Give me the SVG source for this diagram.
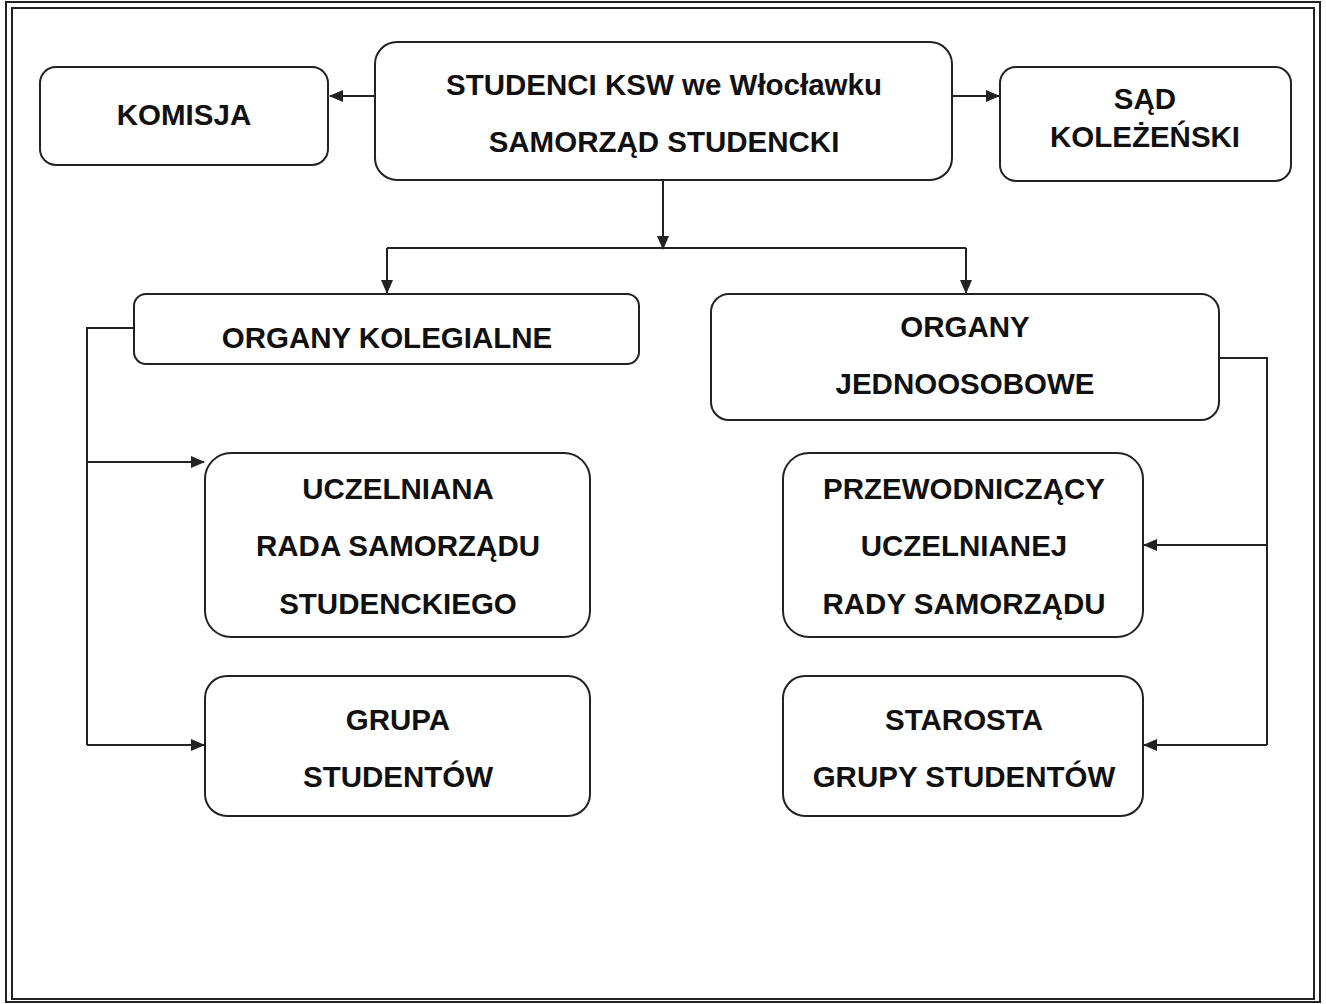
<svg xmlns="http://www.w3.org/2000/svg" width="1326" height="1004" viewBox="0 0 1326 1004">
<defs>
<marker id="arr" markerWidth="14" markerHeight="12" refX="13" refY="6" orient="auto" markerUnits="userSpaceOnUse">
<path d="M0,0 L14,6 L0,12 Z" fill="#222"/>
</marker>
<style>
.box{fill:#fff;stroke:#222;stroke-width:2}
.t{font-family:"Liberation Sans",Arial,sans-serif;font-weight:bold;font-size:29.5px;fill:#111;text-anchor:middle}
.c{fill:none;stroke:#222;stroke-width:2}
</style>
</defs>
<rect width="1326" height="1004" fill="#fff"/>
<g id="frame">
<rect x="6" y="2" width="1314" height="1000" fill="none" stroke="#222" stroke-width="2"/>
<rect x="12" y="8" width="1302" height="991" fill="none" stroke="#222" stroke-width="2"/>
</g>
<g id="connectors">
<path class="c" d="M375,96 H330" marker-end="url(#arr)"/>
<path class="c" d="M952,96 H999" marker-end="url(#arr)"/>
<path class="c" d="M663,180 V249" marker-end="url(#arr)"/>
<path class="c" d="M387,248 H966"/>
<path class="c" d="M387,248 V293" marker-end="url(#arr)"/>
<path class="c" d="M966,248 V293" marker-end="url(#arr)"/>
<path class="c" d="M134,328 H87 V745"/>
<path class="c" d="M87,462 H204" marker-end="url(#arr)"/>
<path class="c" d="M87,745 H204" marker-end="url(#arr)"/>
<path class="c" d="M1219,358 H1267 V745"/>
<path class="c" d="M1267,545 H1144" marker-end="url(#arr)"/>
<path class="c" d="M1267,745 H1144" marker-end="url(#arr)"/>
</g>
<g id="komisja">
<rect class="box" x="40" y="67" width="288" height="98" rx="16"/>
<text class="t" x="184" y="125">KOMISJA</text>
</g>
<g id="studenci">
<rect class="box" x="375" y="42" width="577" height="138" rx="22"/>
<text class="t" x="664" y="95">STUDENCI KSW we Włocławku</text>
<text class="t" x="664" y="152">SAMORZĄD STUDENCKI</text>
</g>
<g id="sad">
<rect class="box" x="1000" y="67" width="291" height="114" rx="16"/>
<text class="t" x="1145" y="109">SĄD</text>
<text class="t" x="1145" y="147">KOLEŻEŃSKI</text>
</g>
<g id="kolegialne">
<rect class="box" x="134" y="294" width="505" height="70" rx="12"/>
<text class="t" x="387" y="348">ORGANY KOLEGIALNE</text>
</g>
<g id="jednoosobowe">
<rect class="box" x="711" y="294" width="508" height="126" rx="18"/>
<text class="t" x="965" y="337">ORGANY</text>
<text class="t" x="965" y="394">JEDNOOSOBOWE</text>
</g>
<g id="uczelniana">
<rect class="box" x="205" y="453" width="385" height="184" rx="26"/>
<text class="t" x="398" y="499">UCZELNIANA</text>
<text class="t" x="398" y="556">RADA SAMORZĄDU</text>
<text class="t" x="398" y="614">STUDENCKIEGO</text>
</g>
<g id="grupa">
<rect class="box" x="205" y="676" width="385" height="140" rx="22"/>
<text class="t" x="398" y="730">GRUPA</text>
<text class="t" x="398" y="787">STUDENTÓW</text>
</g>
<g id="przewodniczacy">
<rect class="box" x="783" y="453" width="360" height="184" rx="26"/>
<text class="t" x="964" y="499">PRZEWODNICZĄCY</text>
<text class="t" x="964" y="556">UCZELNIANEJ</text>
<text class="t" x="964" y="614">RADY SAMORZĄDU</text>
</g>
<g id="starosta">
<rect class="box" x="783" y="676" width="360" height="140" rx="22"/>
<text class="t" x="964" y="730">STAROSTA</text>
<text class="t" x="964" y="787">GRUPY STUDENTÓW</text>
</g>
</svg>
